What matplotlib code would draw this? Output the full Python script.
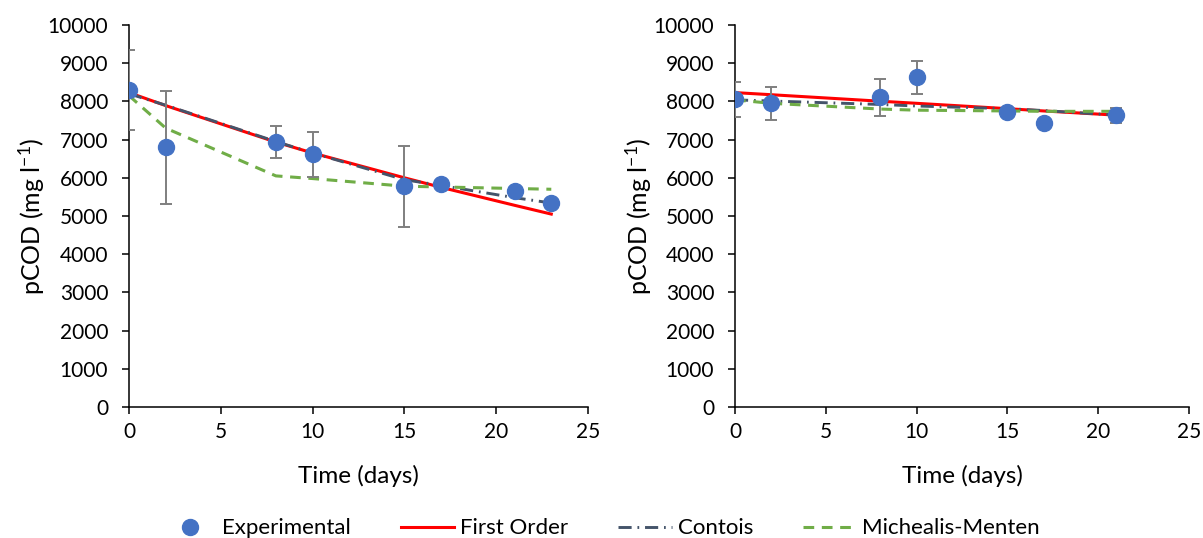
import matplotlib.pyplot as plt
import numpy as np

plt.rcParams['font.family'] = ['Lato', 'DejaVu Sans']
plt.rcParams['mathtext.fontset'] = 'custom'
plt.rcParams['mathtext.rm'] = 'Lato'
plt.rcParams['mathtext.it'] = 'Lato:italic'

# left panel - experimental
t_left = [0, 2, 8, 10, 15, 17, 21, 23]
cod_left = [8300, 6800, 6930, 6620, 5780, 5830, 5650, 5350]
err_left = [1040, 1480, 420, 590, 1060, 0, 0, 0]
# left panel - model fits (values at sample times)
first_left = [8230, 7890, 6935, 6650, 6000, 5750, 5280, 5050]
contois_left = [8200, 7900, 6950, 6650, 5950, 5800, 5480, 5340]
mm_left = [8150, 7300, 6050, 5980, 5780, 5760, 5720, 5700]

# right panel - experimental
t_right = [0, 2, 8, 10, 15, 17, 21]
cod_right = [8055, 7950, 8105, 8630, 7730, 7445, 7635]
err_right = [460, 430, 475, 430, 100, 0, 200]
# right panel - model fits
first_right = [8230, 8175, 8005, 7950, 7810, 7750, 7640]
contois_right = [8040, 8010, 7920, 7880, 7810, 7760, 7640]
mm_right = [8040, 7950, 7800, 7770, 7750, 7740, 7740]

fig = plt.figure(figsize=(12.03, 5.38), dpi=100)
ax1 = fig.add_axes([129/1203, 131/538, 459/1203, 382/538])
ax2 = fig.add_axes([735/1203, 131/538, 454/1203, 382/538])


def draw(ax, t, cod, err, first, contois, mm):
    ax.plot(t, first, color='#FF0000', lw=2.2, zorder=3, label='First Order')
    ax.plot(t, contois, color='#44546A', lw=2.1, dashes=(4.5, 2, 0.6, 2), zorder=4, label='Contois')
    ax.plot(t, mm, color='#70AD47', lw=2.2, dashes=(3.5, 2.5), zorder=5, label='Michealis-Menten')
    ax.errorbar(t, cod, yerr=err, fmt='none', ecolor='#7F7F7F', elinewidth=1.4,
                capsize=4, capthick=1.4, zorder=6)
    ax.plot(t, cod, 'o', color='#4472C4', ms=11.5, zorder=7, label='Experimental')

    ax.set_xlim(0, 25)
    ax.set_ylim(0, 10000)
    ax.set_xticks(np.arange(0, 26, 5))
    ax.set_yticks(np.arange(0, 10001, 1000))
    for s in ['top', 'right']:
        ax.spines[s].set_visible(False)
    for s in ['left', 'bottom']:
        ax.spines[s].set_linewidth(1.1)
        ax.spines[s].set_color('black')
    ax.tick_params(axis='both', labelsize=15, width=1.1, length=5, direction='out')
    ax.tick_params(axis='y', pad=10)
    ax.tick_params(axis='x', pad=6)
    ax.set_xlabel('Time (days)', fontsize=17.5)
    ax.set_ylabel('pCOD (mg l$^{\\mathregular{-1}}$)', fontsize=18)
    ax.xaxis.set_label_coords(0.5, -0.152)
    ax.yaxis.set_label_coords(-0.179, 0.5)


draw(ax1, t_left, cod_left, err_left, first_left, contois_left, mm_left)
draw(ax2, t_right, cod_right, err_right, first_right, contois_right, mm_right)

handles, labels = ax1.get_legend_handles_labels()
order = [3, 0, 1, 2]
fig.legend([handles[i] for i in order], [labels[i] for i in order],
           loc='center', bbox_to_anchor=(0.5, 0.018), ncol=4, frameon=False,
           fontsize=16, handlelength=2.4, handletextpad=0.27, columnspacing=2.25)

fig.savefig('out.png', dpi=100)
